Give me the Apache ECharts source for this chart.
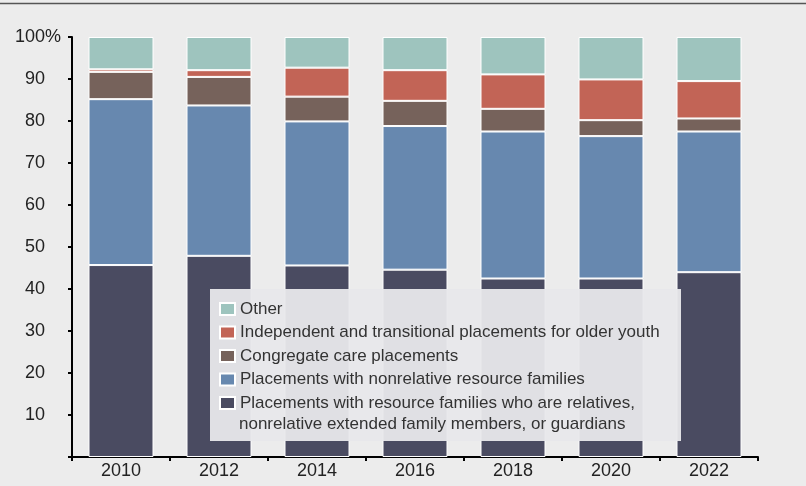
<!DOCTYPE html>
<html>
<head>
<meta charset="utf-8">
<style>
  html, body { margin: 0; padding: 0; background: #ececec; }
  #chart { width: 806px; height: 486px; }
</style>
<script src="https://cdn.jsdelivr.net/npm/echarts@6/dist/echarts.min.js"></script>
</head>
<body>
<div id="chart"></div>
<script>
const years = ['2010', '2012', '2014', '2016', '2018', '2020', '2022']
const relatives = [45.7, 47.9, 45.6, 44.6, 42.5, 42.5, 44.0]
const nonrelative = [39.5, 35.8, 34.3, 34.2, 35.0, 33.9, 33.5]
const congregate = [6.5, 6.8, 5.9, 6.0, 5.4, 3.8, 3.1]
const independent = [0.6, 1.6, 6.9, 7.3, 8.2, 9.7, 8.9]
const other = [7.7, 7.9, 7.3, 7.9, 8.9, 10.1, 10.5]

const names = {
  rel: 'Placements with resource families who are relatives, nonrelative extended family members, or guardians',
  nonrel: 'Placements with nonrelative resource families',
  cong: 'Congregate care placements',
  indep: 'Independent and transitional placements for older youth',
  other: 'Other',
}
const relLine1 = 'Placements with resource families who are relatives,'
const relLine2 = 'nonrelative extended family members, or guardians'

const font = '"Liberation Sans", Arial, sans-serif'
const chart = echarts.init(document.getElementById('chart'))

const makeSeries = (name, data, color) => ({
  name,
  type: 'bar',
  stack: 'total',
  data,
  barWidth: 65,
  itemStyle: { color, borderColor: '#ffffff', borderWidth: 1 },
  emphasis: { disabled: true },
})

chart.setOption({
  backgroundColor: '#ececec',
  animation: false,
  grid: { left: 72, right: 48, top: 37, bottom: 29 },
  legend: {
    orient: 'vertical',
    left: 214,
    top: 294,
    z: 20,
    icon: 'rect',
    itemWidth: 15,
    itemHeight: 12,
    itemGap: 3.5,
    selectedMode: false,
    data: [names.other, names.indep, names.cong, names.nonrel, names.rel],
    formatter: (n) => (n === names.rel ? relLine1 : n),
    textStyle: { fontFamily: font, fontSize: 17, color: '#333', lineHeight: 20 },
  },
  graphic: [
    {
      type: 'line',
      z: 20,
      shape: { x1: 0, y1: 3.5, x2: 806, y2: 3.5 },
      style: { stroke: '#555', lineWidth: 1.5 },
    },
    {
      type: 'rect',
      z: 10,
      shape: { x: 210, y: 289, width: 471, height: 152 },
      style: { fill: 'rgba(232,232,235,0.95)' },
    },
    {
      type: 'text',
      z: 20,
      x: 239,
      y: 424,
      style: {
        text: relLine2,
        font: '17px ' + font,
        fill: '#333',
        verticalAlign: 'middle',
      },
    },
  ],
  xAxis: {
    type: 'category',
    data: years,
    axisLine: { lineStyle: { color: '#000', width: 2 } },
    axisTick: { show: true, length: 4, lineStyle: { color: '#000', width: 2 } },
    axisLabel: { color: '#222', fontSize: 18, fontFamily: font, margin: 5 },
  },
  yAxis: {
    type: 'value',
    min: 0,
    max: 100,
    interval: 10,
    splitLine: { show: false },
    axisLine: { show: true, lineStyle: { color: '#000', width: 2 } },
    axisTick: { show: true, length: 4, lineStyle: { color: '#000', width: 2 } },
    axisLabel: {
      color: '#222',
      fontSize: 18,
      fontFamily: font,
      margin: 11,
      formatter: (v) => (v === 0 ? '' : v === 100 ? '100%' : v + '{h|%}'),
      rich: { h: { color: 'transparent', fontSize: 18, fontFamily: font } },
    },
  },
  series: [
    makeSeries(names.rel, relatives, '#4a4b61'),
    makeSeries(names.nonrel, nonrelative, '#6788af'),
    makeSeries(names.cong, congregate, '#76625b'),
    makeSeries(names.indep, independent, '#c26456'),
    makeSeries(names.other, other, '#9ec4be'),
  ],
})
</script>
</body>
</html>
